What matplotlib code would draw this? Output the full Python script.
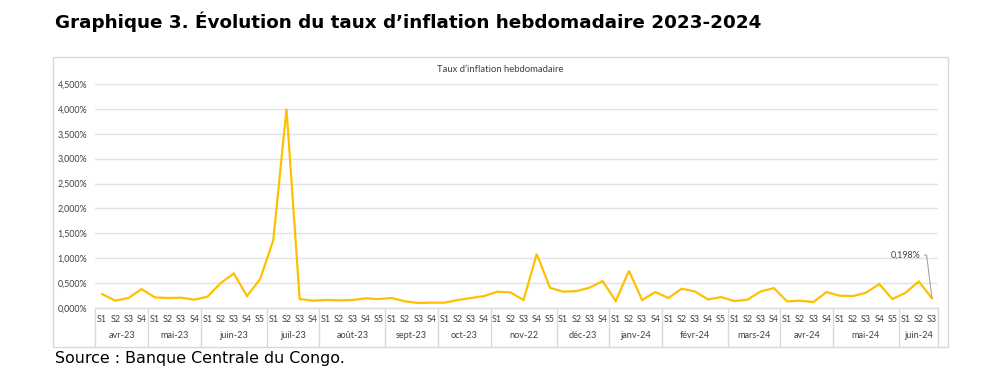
import matplotlib
matplotlib.use("Agg")
import matplotlib.pyplot as plt
from matplotlib.patches import Rectangle
from matplotlib.lines import Line2D
import matplotlib.transforms as mtransforms

months = ["avr-23", "mai-23", "juin-23", "juil-23", "août-23", "sept-23", "oct-23",
          "nov-22", "déc-23", "janv-24", "févr-24", "mars-24", "avr-24", "mai-24", "juin-24"]
weeks_per_month = [4, 4, 5, 4, 5, 4, 4, 5, 4, 4, 5, 4, 4, 5, 3]
values = [0.280, 0.147, 0.200, 0.380,
          0.213, 0.200, 0.207, 0.167,
          0.227, 0.500, 0.693, 0.240, 0.580,
          1.365, 4.000, 0.180, 0.147,
          0.160, 0.153, 0.160, 0.193, 0.180,
          0.200, 0.133, 0.100, 0.107,
          0.107, 0.160, 0.200, 0.240,
          0.327, 0.313, 0.160, 1.087, 0.407,
          0.327, 0.340, 0.407, 0.540,
          0.140, 0.747, 0.160, 0.320,
          0.200, 0.387, 0.333, 0.173, 0.220,
          0.140, 0.167, 0.333, 0.400,
          0.133, 0.147, 0.120, 0.320,
          0.247, 0.240, 0.307, 0.480, 0.180,
          0.307, 0.533, 0.198]
yticks = [0, 0.5, 1.0, 1.5, 2.0, 2.5, 3.0, 3.5, 4.0, 4.5]

week_labels = []
for n in weeks_per_month:
    week_labels += [f"S{i+1}" for i in range(n)]

W, H = 1004, 378
fig = plt.figure(figsize=(W / 100, H / 100), dpi=100)
fig.patch.set_facecolor("white")

# outer chart border
fig.patches.append(Rectangle((53 / W, 1 - 347 / H), (948 - 53) / W, (347 - 57) / H,
                             transform=fig.transFigure, fill=False,
                             edgecolor="#d9d9d9", linewidth=1.0))

left, right = 95.5 / W, 938.5 / W
bottom, top = 1 - 308 / H, 1 - 84 / H
ax = fig.add_axes([left, bottom, right - left, top - bottom])

n = len(values)
x = list(range(n))
ax.plot(x, values, color="#FFC000", linewidth=1.6, solid_joinstyle="miter", zorder=3)
ax.set_xlim(-0.5, n - 0.5)
ax.set_ylim(0, 4.5)
ax.set_yticks(yticks)
ax.set_yticklabels([f"{v:.3f}".replace(".", ",") + "%" for v in yticks],
                   fontsize=6.4, color="#404040", family="Lato")
ax.tick_params(axis="y", length=0, pad=6)
ax.set_xticks([])
for s in ["top", "right", "left"]:
    ax.spines[s].set_visible(False)
ax.spines["bottom"].set_color("#d9d9d9")
ax.spines["bottom"].set_linewidth(1.0)
ax.grid(axis="y", color="#e3e3e3", linewidth=1.0)
ax.set_axisbelow(True)

trans = mtransforms.blended_transform_factory(ax.transData, fig.transFigure)
y_week = 1 - 319 / H
y_month = 1 - 336 / H
for i, lab in enumerate(week_labels):
    ax.text(i, y_week, lab, transform=trans, ha="center", va="center",
            fontsize=6.4, color="#404040", family="Lato")
start = 0
bounds = [-0.5]
for m, k in zip(months, weeks_per_month):
    center = start + (k - 1) / 2
    ax.text(center, y_month, m, transform=trans, ha="center", va="center",
            fontsize=6.6, color="#404040", family="Lato")
    start += k
    bounds.append(start - 0.5)
for b in bounds:
    fig.add_artist(Line2D([b, b], [1 - 308 / H, 1 - 346 / H], transform=trans,
                          color="#d9d9d9", linewidth=1.0))

# data label for last point
ax.annotate("0,198%", xy=(n - 1, values[-1]), xytext=(-8.5, 31),
            textcoords="offset points", ha="right", va="center",
            fontsize=6.4, color="#404040", family="Lato",
            arrowprops=dict(arrowstyle="-", color="#a6a6a6", linewidth=0.8,
                            connectionstyle="angle,angleA=0,angleB=97,rad=0",
                            shrinkA=1, shrinkB=0))

fig.text(500 / W, 1 - 70 / H, "Taux d\u2019inflation hebdomadaire", ha="center", va="center",
         fontsize=6.8, color="#404040", family="Lato")

fig.text(55 / W, 1 - 22 / H, "Graphique 3. Évolution du taux d\u2019inflation hebdomadaire 2023-2024",
         ha="left", va="center", fontsize=13.2, fontweight="bold", color="black",
         family="DejaVu Sans")
fig.text(55 / W, 1 - 358 / H, "Source : Banque Centrale du Congo.", ha="left", va="center",
         fontsize=11.4, color="black", family="DejaVu Sans")

fig.savefig("out.png", dpi=100)
